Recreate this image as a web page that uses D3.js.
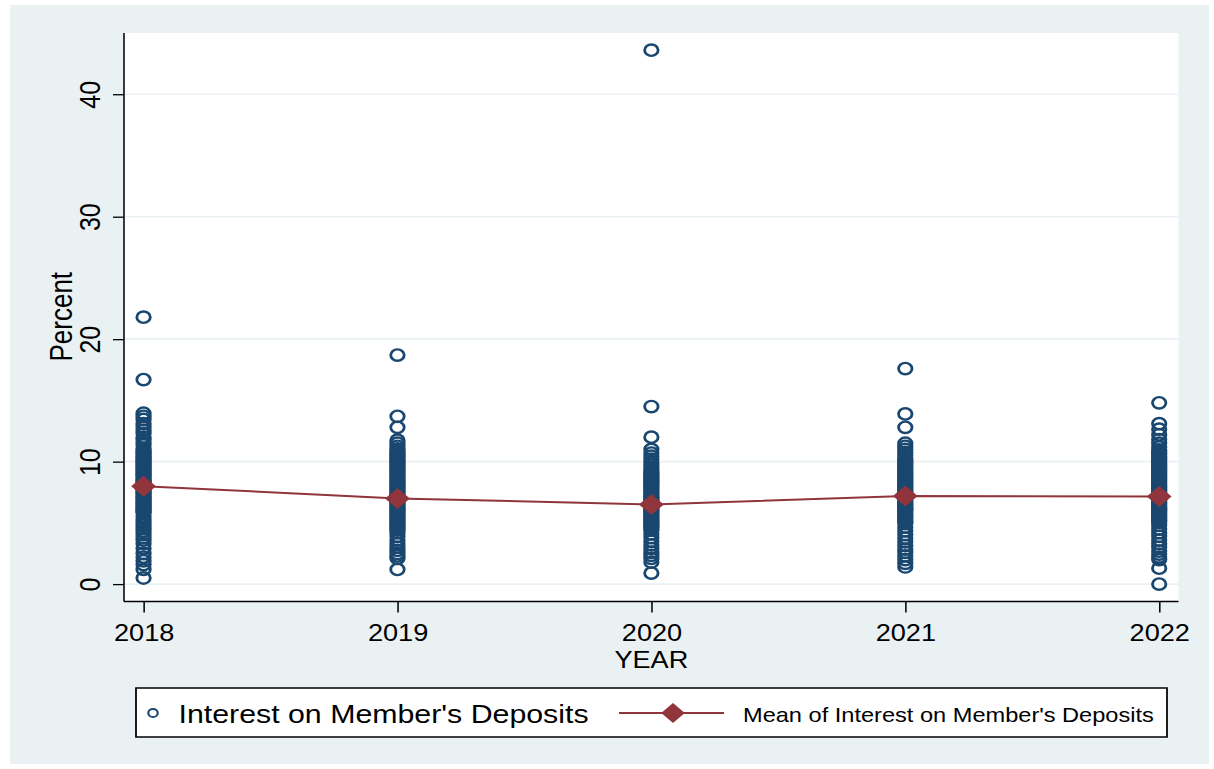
<!DOCTYPE html>
<html><head><meta charset="utf-8">
<script src="https://cdn.jsdelivr.net/npm/d3@7"></script>
<style>html,body{margin:0;padding:0;background:#fff;} svg{display:block}</style>
</head><body>
<svg id="chart"></svg>
<script>
// ---------------- data ----------------
const years = [2018, 2019, 2020, 2021, 2022];
const yTicks = [0, 10, 20, 30, 40];
const xTicks = [2018, 2019, 2020, 2021, 2022];

const vals2018 = [21.8, 16.7, 13.95, 13.7, 13.45, 13.1, 12.85, 12.55, 12.3, 12.0, 11.8, 11.55, 11.35, 11.1,
  10.95, 10.82, 10.7, 10.58, 10.45, 10.33, 10.2, 10.1, 9.98, 9.85, 9.72, 9.6, 9.5, 9.38, 9.25, 9.12, 9.0,
  8.9, 8.78, 8.65, 8.52, 8.4, 8.3, 8.18, 8.05, 7.92, 7.8, 7.7, 7.58, 7.45, 7.32, 7.2, 7.1, 6.98, 6.85,
  6.72, 6.6, 6.5, 6.38, 6.25, 6.12, 6.0, 5.9, 5.8, 5.55, 5.3, 5.05, 4.8, 4.55, 4.3, 4.05, 3.8, 3.6,
  3.3, 2.9, 2.5, 2.2, 1.9, 1.6, 1.2, 0.5];
const vals2019 = [18.7, 13.7, 12.8, 11.75, 11.5, 11.25, 11.05,
  10.9, 10.78, 10.65, 10.52, 10.4, 10.28, 10.15, 10.02, 9.9, 9.78, 9.65, 9.52, 9.4, 9.28, 9.15, 9.02,
  8.9, 8.78, 8.65, 8.52, 8.4, 8.28, 8.15, 8.02, 7.9, 7.78, 7.65, 7.52, 7.4, 7.28, 7.15, 7.02, 6.9, 6.78,
  6.65, 6.52, 6.4, 6.28, 6.15, 6.02, 5.9, 5.78, 5.65, 5.52, 5.4, 5.28, 5.15, 5.02, 4.9, 4.78, 4.65, 4.52,
  4.4, 4.2, 3.9, 3.6, 3.3, 3.0, 2.75, 2.5, 2.3, 2.1, 1.2];
const vals2020 = [43.6, 14.5, 12.0, 11.0, 10.7, 10.45, 10.2, 9.95, 9.7, 9.45, 9.2,
  9.05, 8.92, 8.8, 8.68, 8.55, 8.42, 8.3, 8.18, 8.05, 7.92, 7.8, 7.68, 7.55, 7.42, 7.3, 7.18, 7.05, 6.92,
  6.8, 6.68, 6.55, 6.42, 6.3, 6.18, 6.05, 5.92, 5.8, 5.68, 5.55, 5.42, 5.3, 5.18, 5.05, 4.92, 4.8, 4.68,
  4.55, 4.4, 4.1, 3.8, 3.5, 3.2, 2.9, 2.6, 2.35, 2.1, 1.8, 0.9];
const vals2021 = [17.6, 13.9, 12.8, 11.5, 11.25, 11.0, 10.75, 10.5, 10.25,
  10.1, 9.98, 9.85, 9.72, 9.6, 9.48, 9.35, 9.22, 9.1, 8.98, 8.85, 8.72, 8.6, 8.48, 8.35, 8.22, 8.1, 7.98,
  7.85, 7.72, 7.6, 7.48, 7.35, 7.22, 7.1, 6.98, 6.85, 6.72, 6.6, 6.48, 6.35, 6.22, 6.1, 5.98, 5.85, 5.72,
  5.6, 5.48, 5.35, 5.22, 5.1, 4.95, 4.65, 4.35, 4.05, 3.75, 3.45, 3.15, 2.85, 2.6, 2.3, 2.0, 1.7, 1.4];
const vals2022 = [14.8, 13.1, 12.65, 12.2, 11.8, 11.5, 11.2,
  10.95, 10.82, 10.7, 10.58, 10.45, 10.32, 10.2, 10.08, 9.95, 9.82, 9.7, 9.58, 9.45, 9.32, 9.2, 9.08,
  8.95, 8.82, 8.7, 8.58, 8.45, 8.32, 8.2, 8.08, 7.95, 7.82, 7.7, 7.58, 7.45, 7.32, 7.2, 7.08, 6.95, 6.82,
  6.7, 6.58, 6.45, 6.32, 6.2, 6.08, 5.95, 5.82, 5.7, 5.58, 5.45, 5.32, 5.2, 5.05, 4.8, 4.5, 4.2, 3.9,
  3.6, 3.3, 3.0, 2.7, 2.45, 2.2, 2.0, 1.3, 0.0];
const meanVals = [8.0, 7.0, 6.5, 7.2, 7.15];

const seriesLabel = "Interest on Member's Deposits";
const meanLabel = "Mean of Interest on Member's Deposits";
const xTitle = "YEAR";
const yTitle = "Percent";

// ---------------- layout ----------------
const S = 1.18;               // horizontal stretch of the original picture
const W = 1214, H = 769;
const VW = W / S;
const u = px => px / S;       // horizontal page px -> viewBox units
const FONT = "'Liberation Sans', Arial, Helvetica, sans-serif";
const NAVY = "#1a476f", MAROON = "#90353b", BG = "#eaf1f3";

const svg = d3.select('#chart')
  .attr('width', W).attr('height', H)
  .attr('viewBox', `0 0 ${VW} ${H}`)
  .attr('preserveAspectRatio', 'none');

svg.append('rect').attr('x', 0).attr('y', 0).attr('width', VW).attr('height', H).attr('fill', '#fff');
svg.append('rect').attr('x', u(10)).attr('y', 5).attr('width', u(1199)).attr('height', 759).attr('fill', BG);

const plot = {l: u(124), r: u(1178.5), t: 33, b: 601.5};
svg.append('rect').attr('x', plot.l).attr('y', plot.t)
  .attr('width', plot.r - plot.l).attr('height', plot.b - plot.t).attr('fill', '#fff');

const x = d3.scaleLinear().domain([2017.923, 2022.076]).range([plot.l, plot.r]);
const y = d3.scaleLinear().domain([-1.42, 45.0]).range([plot.b, plot.t]);

// grid
svg.append('g').selectAll('line').data(yTicks).join('line')
  .attr('x1', plot.l).attr('x2', plot.r)
  .attr('y1', d => y(d)).attr('y2', d => y(d))
  .attr('stroke', BG).attr('stroke-width', 1.6);

// points
const valsByYear = [vals2018, vals2019, vals2020, vals2021, vals2022];
const points = years.flatMap((yr, i) => valsByYear[i].map(v => ({yr, v})));
svg.append('g').selectAll('circle').data(points).join('circle')
  .attr('cx', d => x(d.yr)).attr('cy', d => y(d.v)).attr('r', 5.7)
  .attr('fill', 'none').attr('stroke', NAVY).attr('stroke-width', 2.4);

// mean line
const meanData = years.map((yr, i) => ({yr, v: meanVals[i]}));
svg.append('path').datum(meanData)
  .attr('d', d3.line().x(d => x(d.yr)).y(d => y(d.v)))
  .attr('fill', 'none').attr('stroke', MAROON).attr('stroke-width', 2);
const dia = h => `M0,${-h}L${h},0L0,${h}L${-h},0Z`;
svg.append('g').selectAll('path').data(meanData).join('path')
  .attr('d', dia(10.5))
  .attr('transform', d => `translate(${x(d.yr)},${y(d.v)})`)
  .attr('fill', MAROON);

// axes
const yAxis = svg.append('g').attr('transform', `translate(${plot.l},0)`)
  .call(d3.axisLeft(y).tickValues(yTicks).tickSize(u(11)).tickSizeOuter(0).tickFormat(d3.format('d')));
yAxis.attr('font-family', FONT);
yAxis.select('.domain').attr('d', `M0,${plot.t}V${plot.b}`).attr('stroke', '#000').attr('stroke-width', 1.3);
yAxis.selectAll('.tick line').attr('stroke', '#000').attr('stroke-width', 1.3);
yAxis.selectAll('.tick text')
  .attr('x', null).attr('dy', null).attr('y', null)
  .attr('transform', `translate(${-u(24)},0) rotate(-90)`)
  .attr('text-anchor', 'middle')
  .attr('font-family', FONT).attr('font-size', 25).attr('fill', '#000');

const xAxis = svg.append('g').attr('transform', `translate(0,${plot.b})`)
  .call(d3.axisBottom(x).tickValues(xTicks).tickSize(11).tickSizeOuter(0).tickFormat(d3.format('d')));
xAxis.attr('font-family', FONT);
xAxis.select('.domain').attr('d', `M${plot.l},0H${plot.r}`).attr('stroke', '#000').attr('stroke-width', 1.3);
xAxis.selectAll('.tick line').attr('stroke', '#000').attr('stroke-width', 1.3);
xAxis.selectAll('.tick text')
  .attr('y', 40).attr('dy', null)
  .attr('font-family', FONT).attr('font-size', 23).attr('fill', '#000');

// axis titles
svg.append('text').text(xTitle)
  .attr('x', x(2020)).attr('y', 668).attr('text-anchor', 'middle')
  .attr('font-family', FONT).attr('font-size', 23).attr('fill', '#000');
svg.append('text').text(yTitle)
  .attr('transform', `translate(${u(72)},316.7) rotate(-90)`).attr('text-anchor', 'middle')
  .attr('font-family', FONT).attr('font-size', 26).attr('fill', '#000');

// legend
const lg = svg.append('g');
lg.append('rect').attr('x', u(136)).attr('y', 688).attr('width', u(1031)).attr('height', 49)
  .attr('fill', '#fff').attr('stroke', '#000').attr('stroke-width', 1.5);
lg.append('circle').attr('cx', u(153)).attr('cy', 713).attr('r', 4)
  .attr('fill', 'none').attr('stroke', NAVY).attr('stroke-width', 1.8);
lg.append('text').text(seriesLabel).attr('x', u(178.5)).attr('y', 723)
  .attr('font-family', FONT).attr('font-size', 25.7).attr('fill', '#000');
lg.append('line').attr('x1', u(619)).attr('x2', u(724)).attr('y1', 713).attr('y2', 713)
  .attr('stroke', MAROON).attr('stroke-width', 2);
lg.append('path').attr('d', dia(10)).attr('transform', `translate(${u(673)},713)`).attr('fill', MAROON);
lg.append('text').text(meanLabel).attr('x', u(743)).attr('y', 722)
  .attr('font-family', FONT).attr('font-size', 20).attr('fill', '#000');
</script>
</body></html>
